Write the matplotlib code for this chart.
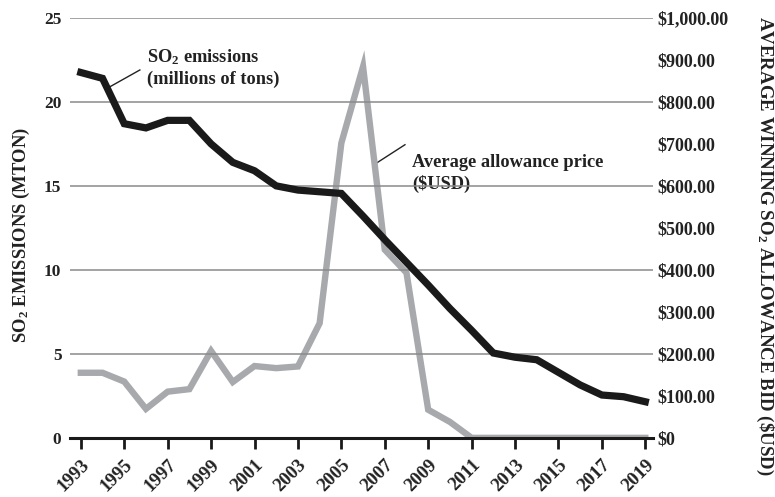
import matplotlib
matplotlib.use("Agg")
import matplotlib.pyplot as plt

plt.rcParams['font.family'] = ['Liberation Serif', 'DejaVu Serif']
plt.rcParams['font.weight'] = 'bold'
plt.rcParams['mathtext.fontset'] = 'custom'
plt.rcParams['mathtext.rm'] = 'Liberation Serif:bold'
plt.rcParams['mathtext.default'] = 'rm'

years = list(range(1993, 2020))
emissions = [21.75, 21.4, 18.7, 18.45, 18.9, 18.9, 17.5, 16.4, 15.9, 15.0, 14.75, 14.65, 14.55,
             13.2, 11.8, 10.45, 9.1, 7.7, 6.4, 5.05, 4.8, 4.65, 3.9, 3.15, 2.55, 2.45, 2.15]
price = [155, 155, 134, 69, 110, 116, 207, 133, 171, 166, 170, 273, 702,
         884, 448, 393, 67, 38, 0, 0, 0, 0, 0, 0, 0, 0, 0]
left_ticks = [0, 5, 10, 15, 20, 25]
right_ticks = list(range(0, 1001, 100))
right_labels = ['$0'] + ['${:,.2f}'.format(v) for v in right_ticks[1:]]
x_ticks = list(range(1993, 2020, 2))

fig = plt.figure(figsize=(7.75, 4.97), dpi=100)
ax = fig.add_axes([0.090, 0.119, 0.753, 0.845])
ax2 = ax.twinx()

ax.set_xlim(1992.49, 2019.37)
ax.set_ylim(0, 25)
ax2.set_ylim(0, 1000)

for v in left_ticks[1:]:
    ax.axhline(v, color='#8a8a8a', lw=1.1, zorder=1)
ax.axhline(0, color='#1a1a1a', lw=2.2, zorder=1, clip_on=False)

ax2.plot(years, price, color='#a7a9ac', lw=4.6, solid_joinstyle='miter', zorder=3)
ax.plot(years, emissions, color='#1a1a1a', lw=5.2, solid_joinstyle='miter', zorder=4)
ax.set_zorder(ax2.get_zorder() + 1)
ax.patch.set_visible(False)

for a in (ax, ax2):
    for s in a.spines.values():
        s.set_visible(False)

tc = '#222222'
ax.set_yticks(left_ticks)
ax.set_yticklabels([str(v) for v in left_ticks], fontsize=12.5, fontweight='bold', color=tc)
ax.tick_params(axis='y', length=0, pad=6)
ax.set_xticks(x_ticks)
ax.set_xticklabels([str(v) for v in x_ticks], rotation=45, ha='right', rotation_mode='anchor',
                   fontsize=13.5, fontweight='bold', color=tc)
ax.tick_params(axis='x', length=8, width=2, color='#1a1a1a', pad=5, direction='out')

ax2.set_yticks(right_ticks)
ax2.set_yticklabels(right_labels, fontsize=13, fontweight='bold', color=tc)
ax2.tick_params(axis='y', length=0, pad=3)

ax.set_ylabel('SO$_2$ EMISSIONS (MTON)', fontsize=13.4, fontweight='bold', color=tc,
              ha='center', va='center')
ax.yaxis.set_label_coords(-0.082, 0.483)
ax2.set_ylabel('AVERAGE WINNING SO$_2$ ALLOWANCE BID (\\$USD)', fontsize=13.6, fontweight='bold',
               color=tc, rotation=-90, ha='center', va='center')
ax2.yaxis.set_label_coords(1.191, 0.458)

ax.text(1996.04, 22.05, 'SO$_2$ emissions\n(millions of tons)', fontsize=13.2, fontweight='bold',
        color=tc, va='center', ha='left', linespacing=1.25)
ax.plot([1994.34, 1995.72], [20.9, 21.9], color=tc, lw=1)
ax2.text(2008.25, 630, 'Average allowance price\n(\\$USD)', fontsize=13.2, fontweight='bold',
         color=tc, va='center', ha='left', linespacing=1.25)
ax2.plot([2006.64, 2007.93], [655, 698], color=tc, lw=1)

fig.savefig('out.png', dpi=100)
